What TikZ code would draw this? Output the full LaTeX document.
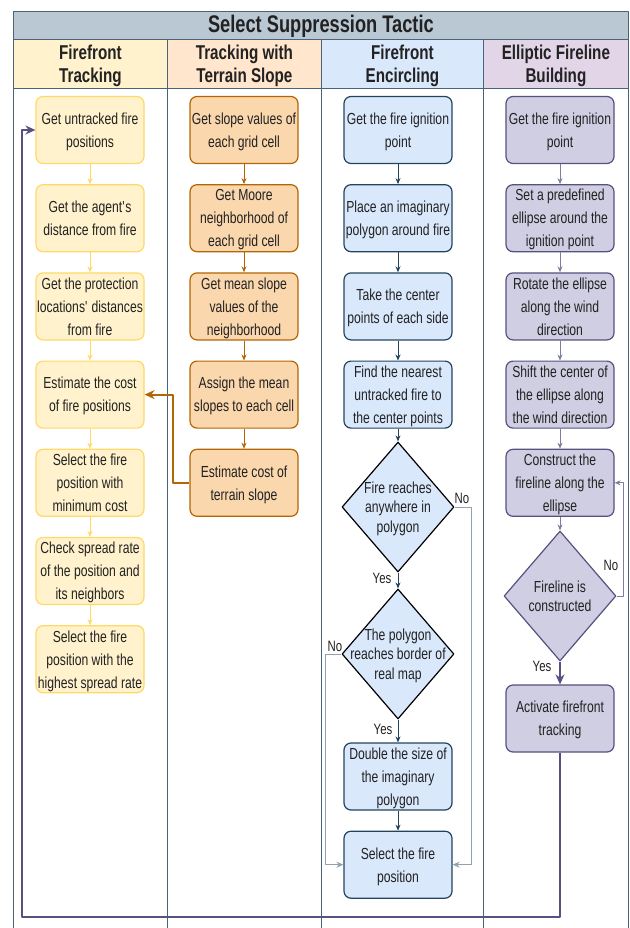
\documentclass[tikz,border=0pt]{standalone}
\usepackage{fontspec}
\setmainfont{Liberation Sans}[FakeStretch=0.76]
\usetikzlibrary{shapes.geometric,arrows.meta,positioning}

\definecolor{titlefill}{HTML}{BAC8D3}
\definecolor{lanedraw}{HTML}{4A6378}
\definecolor{textcol}{HTML}{222222}
\definecolor{yfill}{HTML}{FFF2CC}
\definecolor{ydraw}{HTML}{FFD966}
\definecolor{ohead}{HTML}{FFE6CC}
\definecolor{ofill}{HTML}{FAD7AC}
\definecolor{odraw}{HTML}{B46504}
\definecolor{bfill}{HTML}{DAE8FC}
\definecolor{bdraw}{HTML}{23445D}
\definecolor{phead}{HTML}{E1D5E7}
\definecolor{pfill}{HTML}{D0CEE2}
\definecolor{pdraw}{HTML}{56517E}

\begin{document}
\begin{tikzpicture}[
    x = 1pt, y = -1pt,
    line join=round,
    lane/.style = {draw=lanedraw, line width=0.8pt},
    head/.style = {lane, text=textcol, align=center, font=\bfseries\fontsize{20}{23}\selectfont, text depth=-1.7pt},
    box/.style = {rectangle, rounded corners=7pt, line width=1.2pt, minimum width=108pt,
                  minimum height=67pt, inner xsep=0.5pt, inner ysep=1pt, align=center,
                  text=textcol, font=\fontsize{16}{23}\selectfont, text depth=-5.5pt},
    ybox/.style = {box, draw=ydraw, fill=yfill},
    obox/.style = {box, draw=odraw, fill=ofill},
    bbox/.style = {box, draw=bdraw, fill=bfill},
    pbox/.style = {box, draw=pdraw, fill=pfill},
    decision/.style = {diamond, line width=1.2pt, minimum width=112pt, minimum height=130pt, inner sep=0pt},
    dtext/.style = {align=center, inner sep=0pt, text=textcol, font=\fontsize{16}{19.5}\selectfont, text depth=-0.5pt},
    yn/.style = {inner sep=0pt, text=textcol, font=\fontsize{15}{18}\selectfont},
    yarrow/.style = {draw=ydraw, line width=0.8pt, -{Stealth[length=6pt,width=5pt]}},
    oarrow/.style = {draw=odraw, line width=0.8pt, -{Stealth[length=6pt,width=5pt]}},
    barrow/.style = {draw=bdraw, line width=0.8pt, -{Stealth[length=6pt,width=5pt]}},
    parrow/.style = {draw=pdraw!75, line width=0.8pt, -{Stealth[length=6pt,width=5pt]}},
    noline/.style = {draw=bdraw!50, line width=0.8pt, -{Stealth[length=7pt,width=6pt]}},
    bigarrow/.style = {line width=2pt, -{Stealth[length=10pt,width=9pt]}}
]
    \useasboundingbox (0,0) rectangle (629,928);

    % pool and lanes
    \node[lane, fill=titlefill, minimum width=615pt, minimum height=28pt, anchor=north west,
          text=textcol, font=\bfseries\fontsize{24}{28}\selectfont] (pool) at (13,11) {Select Suppression Tactic};
    \node[head, fill=yfill, minimum width=154pt, minimum height=49pt, anchor=north west] (lane1) at (13,39) {Firefront\\Tracking};
    \node[head, fill=ohead, minimum width=154pt, minimum height=49pt, anchor=north west] (lane2) at (167,39) {Tracking with\\Terrain Slope};
    \node[head, fill=bfill, minimum width=162pt, minimum height=49pt, anchor=north west] (lane3) at (321,39) {Firefront\\Encircling};
    \node[head, fill=phead, minimum width=145pt, minimum height=49pt, anchor=north west] (lane4) at (483,39) {Elliptic Fireline\\Building};
    \foreach \xl in {13,167,321,483,628}
        \draw[lane] (\xl,88) -- (\xl,928);

    % firefront tracking
    \node[ybox] (y1) at (90,130) {Get untracked fire\\positions};
    \node[ybox, below=20pt of y1] (y2) {Get the agent\textquotesingle s\\distance from fire};
    \node[ybox, below=20pt of y2] (y3) {Get the protection\\locations\textquotesingle\ distances\\from fire};
    \node[ybox, below=20pt of y3] (y4) {Estimate the cost\\of fire positions};
    \node[ybox, below=20pt of y4] (y5) {Select the fire\\position with\\minimum cost};
    \node[ybox, below=20pt of y5] (y6) {Check spread rate\\of the position and\\its neighbors};
    \node[ybox, below=20pt of y6] (y7) {Select the fire\\position with the\\highest spread rate};

    % terrain slope
    \node[obox] (o1) at (244,130) {Get slope values of\\each grid cell};
    \node[obox, below=20pt of o1] (o2) {Get Moore\\neighborhood of\\each grid cell};
    \node[obox, below=20pt of o2] (o3) {Get mean slope\\values of the\\neighborhood};
    \node[obox, below=20pt of o3] (o4) {Assign the mean\\slopes to each cell};
    \node[obox, below=20pt of o4] (o5) {Estimate cost of\\terrain slope};

    % encircling
    \node[bbox] (b1) at (398,130) {Get the fire ignition\\point};
    \node[bbox, below=20pt of b1] (b2) {Place an imaginary\\polygon around fire};
    \node[bbox, below=20pt of b2] (b3) {Take the center\\points of each side};
    \node[bbox, below=20pt of b3] (b4) {Find the nearest\\untracked fire to\\the center points};
    \node[decision, draw=black, fill=bfill] (d1) at (398,507) {};
    \node[dtext] (d1t) at (d1) {Fire reaches\\anywhere in\\polygon};
    \node[decision, draw=black, fill=bfill] (d2) at (398,654) {};
    \node[dtext] (d2t) at (d2) {The polygon\\reaches border of\\real map};
    \node[bbox] (b5) at (398,776.5) {Double the size of\\the imaginary\\polygon};
    \node[bbox, below=20pt of b5] (b6) {Select the fire\\position};

    % fireline building
    \node[pbox] (p1) at (560,130) {Get the fire ignition\\point};
    \node[pbox, below=20pt of p1] (p2) {Set a predefined\\ellipse around the\\ignition point};
    \node[pbox, below=20pt of p2] (p3) {Rotate the ellipse\\along the wind\\direction};
    \node[pbox, below=20pt of p3] (p4) {Shift the center of\\the ellipse along\\the wind direction};
    \node[pbox, below=20pt of p4] (p5) {Construct the\\fireline along the\\ellipse};
    \node[decision, draw=pdraw, fill=pfill] (pd) at (560,596) {};
    \node[dtext] (pdt) at (pd) {Fireline is\\constructed};
    \node[pbox] (p6) at (560,718.5) {Activate firefront\\tracking};

    % yes / no
    \node[yn] (yes1) at (382,578) {Yes};
    \node[yn] (yes2) at (383,729) {Yes};
    \node[yn] (yes3) at (542,666) {Yes};
    \node[yn] (no1) at (462,498) {No};
    \node[yn] (no2) at (335,646) {No};
    \node[yn] (no3) at (611,565) {No};

    % connectors
    \draw[yarrow] (y1) -- (y2);
    \draw[yarrow] (y2) -- (y3);
    \draw[yarrow] (y3) -- (y4);
    \draw[yarrow] (y4) -- (y5);
    \draw[yarrow] (y5) -- (y6);
    \draw[yarrow] (y6) -- (y7);

    \draw[oarrow] (o1) -- (o2);
    \draw[oarrow] (o2) -- (o3);
    \draw[oarrow] (o3) -- (o4);
    \draw[oarrow] (o4) -- (o5);
    \draw[bigarrow, odraw] (o5.west) -- ++(-16,0) |- (y4.east);

    \draw[barrow] (b1) -- (b2);
    \draw[barrow] (b2) -- (b3);
    \draw[barrow] (b3) -- (b4);
    \draw[barrow] (b4) -- (d1);
    \draw[barrow] (d1) -- (d2);
    \draw[barrow] (d2) -- (b5);
    \draw[barrow] (b5) -- (b6);
    \draw[noline] (d1.east) -- ++(17,0) |- (b6.east);
    \draw[noline] (d2.west) -- ++(-16,0) |- (b6.west);

    \draw[parrow] (p1) -- (p2);
    \draw[parrow] (p2) -- (p3);
    \draw[parrow] (p3) -- (p4);
    \draw[parrow] (p4) -- (p5);
    \draw[parrow] (p5) -- (pd);
    \draw[parrow] (pd.east) -- ++(7,0) |- (p5.east);
    \draw[bigarrow, pdraw] (pd) -- (p6);

    \coordinate (ret) at (22,917);
    \draw[bigarrow, pdraw, line width=2.5pt] (p6.south) |- (ret) |- (y1.west);

\end{tikzpicture}
\end{document}
